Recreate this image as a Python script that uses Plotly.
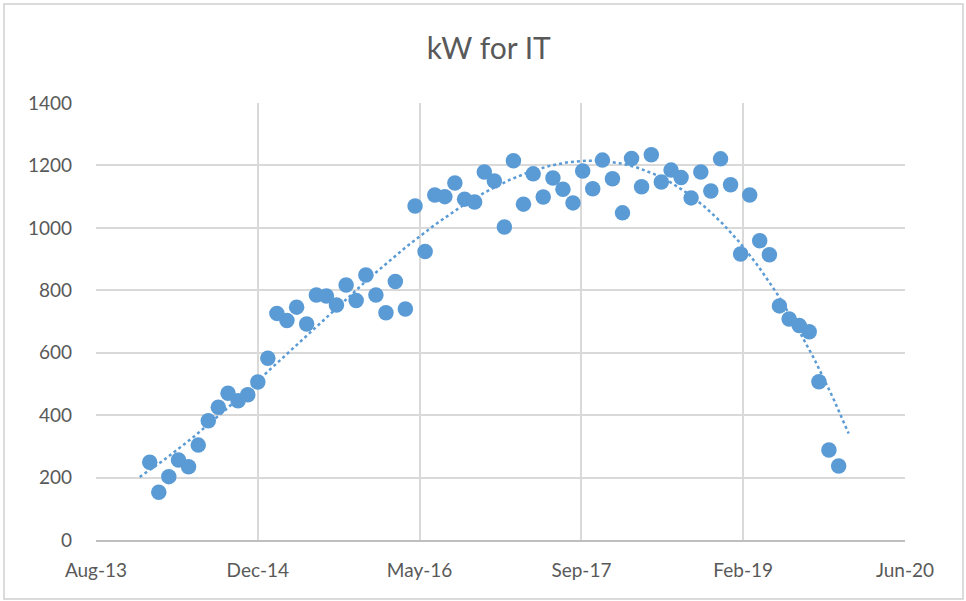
import numpy as np
import pandas as pd
import plotly.graph_objects as go

# ---- data ----
dates = pd.date_range("2014-01-31", periods=71, freq="ME")
kw_values = [249, 153, 203, 256, 235, 304, 382, 425, 470, 446,
             465, 506, 582, 726, 703, 746, 692, 785, 782, 753,
             817, 767, 849, 785, 728, 828, 740, 1070, 924, 1105,
             1100, 1144, 1092, 1083, 1179, 1150, 1003, 1215, 1076, 1173,
             1099, 1160, 1124, 1080, 1182, 1125, 1217, 1157, 1048, 1222,
             1132, 1234, 1147, 1185, 1161, 1096, 1179, 1118, 1221, 1138,
             916, 1105, 959, 914, 750, 708, 687, 667, 507, 288, 237]
axis_start = pd.Timestamp("2013-08-18")
tick_step_days = 500
tick_count = 6
trend_degree = 3
forecast_days = 31

# ---- trendline (polynomial fit, like Excel) ----
x_days = np.array([(d - axis_start).days for d in dates], dtype=float)
coef = np.polyfit(x_days, np.array(kw_values, dtype=float), trend_degree)
t_days = np.linspace(x_days.min() - forecast_days, x_days.max() + forecast_days, 300)
t_vals = np.polyval(coef, t_days)
t_dates = [axis_start + pd.Timedelta(days=float(d)) for d in t_days]

tickvals = [axis_start + pd.Timedelta(days=tick_step_days * i) for i in range(tick_count)]

blue = "#5B9BD5"
grey_txt = "#595959"
font_family = "Lato, 'Open Sans', sans-serif"

fig = go.Figure()
fig.add_trace(go.Scatter(
    x=t_dates, y=t_vals, mode="lines",
    line=dict(color=blue, width=2.5, dash="dot"),
    hoverinfo="skip", showlegend=False,
))
fig.add_trace(go.Scatter(
    x=dates, y=kw_values, mode="markers",
    marker=dict(color=blue, size=15.5, line=dict(width=0)),
    showlegend=False,
))

L, R, T, B = 96, 61, 103, 61
W, H = 966, 601
pw, ph = W - L - R, H - T - B

fig.update_layout(
    width=W, height=H,
    margin=dict(l=L, r=R, t=T, b=B),
    paper_bgcolor="white", plot_bgcolor="white",
    font=dict(family=font_family, color=grey_txt, size=19),
    title=dict(text="kW for IT", x=0.506, xref="container", xanchor="center",
               y=1 - 48 / H, yref="container", yanchor="middle",
               font=dict(size=30, color=grey_txt, family=font_family)),
    xaxis=dict(
        type="date",
        range=[tickvals[0], tickvals[-1]],
        tickvals=tickvals, tickformat="%b-%y",
        showgrid=True, gridcolor="#D9D9D9", gridwidth=2,
        showline=True, linecolor="#BFBFBF", linewidth=2,
        zeroline=False, ticks="", ticklabelstandoff=12,
        tickfont=dict(size=19, color=grey_txt),
    ),
    yaxis=dict(
        range=[0, 1400], dtick=200, tick0=0,
        showgrid=True, gridcolor="#D9D9D9", gridwidth=2,
        zeroline=False, showline=False, ticks="", ticklabelstandoff=23,
        tickfont=dict(size=19, color=grey_txt),
    ),
    shapes=[dict(
        type="rect", xref="paper", yref="paper",
        x0=(4 - L) / pw, x1=(963 - L) / pw,
        y0=(H - B - 599) / ph, y1=(H - B - 4) / ph,
        line=dict(color="#D0D0D0", width=1.5), layer="below",
    )],
)

fig.write_html(
    "out.html",
    config={"displayModeBar": False},
    post_script="document.body.style.margin='0';document.body.style.overflow='hidden';",
)
